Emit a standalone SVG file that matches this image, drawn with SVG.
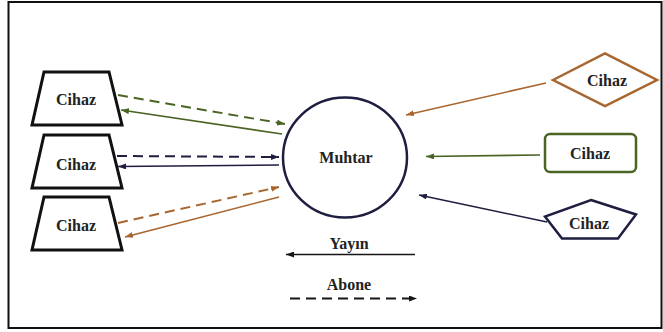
<svg xmlns="http://www.w3.org/2000/svg" width="663" height="332" viewBox="0 0 663 332">
<style>
text{font-family:"Liberation Serif","DejaVu Serif",serif;font-weight:bold;font-size:16px;fill:#222;text-anchor:middle}
.trap{fill:#fff;stroke:#111;stroke-width:3}
.c{fill:none}
.dash{stroke-width:2;stroke-dasharray:10 6}
.sol{stroke-width:1.6}
.br{stroke:#A8662E}
.gr{stroke:#4A6424}
.nv{stroke:#1E1E40}
.bk{stroke:#151515}
</style>
<defs>
<marker id="aBr" markerUnits="userSpaceOnUse" markerWidth="8" markerHeight="6" refX="8" refY="3" orient="auto"><path d="M0,0L8,3L0,6z" fill="#A8662E"/></marker>
<marker id="aGr" markerUnits="userSpaceOnUse" markerWidth="8" markerHeight="6" refX="8" refY="3" orient="auto"><path d="M0,0L8,3L0,6z" fill="#4A6424"/></marker>
<marker id="aNv" markerUnits="userSpaceOnUse" markerWidth="8" markerHeight="6" refX="8" refY="3" orient="auto"><path d="M0,0L8,3L0,6z" fill="#1E1E40"/></marker>
<marker id="aBk" markerUnits="userSpaceOnUse" markerWidth="8" markerHeight="6" refX="8" refY="3" orient="auto"><path d="M0,0L8,3L0,6z" fill="#151515"/></marker>
</defs>
<rect x="0" y="0" width="663" height="332" fill="#fff"/>
<rect x="8.5" y="2" width="653" height="326" fill="none" stroke="#111" stroke-width="2"/>

<g id="connectors">
  <line class="c dash gr" x1="118" y1="95" x2="285" y2="124" marker-end="url(#aGr)"/>
  <line class="c sol gr" x1="282" y1="134" x2="121" y2="110" marker-end="url(#aGr)"/>
  <line class="c dash nv" x1="117" y1="156" x2="279" y2="157" marker-end="url(#aNv)"/>
  <line class="c sol nv" x1="279" y1="165" x2="118" y2="166.5" marker-end="url(#aNv)"/>
  <line class="c dash br" x1="118" y1="223" x2="279" y2="187" marker-end="url(#aBr)"/>
  <line class="c sol br" x1="279" y1="197" x2="125" y2="237" marker-end="url(#aBr)"/>
  <line class="c sol br" x1="546" y1="83" x2="406" y2="115" marker-end="url(#aBr)"/>
  <line class="c sol gr" x1="540" y1="155" x2="426" y2="156.5" marker-end="url(#aGr)"/>
  <line class="c sol nv" x1="547" y1="222" x2="419" y2="195" marker-end="url(#aNv)"/>
  <line class="c sol bk" x1="415" y1="254.5" x2="286" y2="254.5" marker-end="url(#aBk)"/>
  <line class="c dash bk" x1="290" y1="298.5" x2="417" y2="298.5" marker-end="url(#aBk)"/>
</g>

<g id="cihaz1"><polygon class="trap" points="44,72 109,72 122,125 32,125"/><text x="76" y="104.5">Cihaz</text></g>
<g id="cihaz2"><polygon class="trap" points="44,135 109,135 122,188 32,188"/><text x="76" y="169.5">Cihaz</text></g>
<g id="cihaz3"><polygon class="trap" points="44,197 109,197 122,250 32,250"/><text x="76" y="231">Cihaz</text></g>

<g id="muhtar"><ellipse cx="345" cy="157.5" rx="62" ry="60" fill="#fff" stroke="#1E1E40" stroke-width="2.5"/><text x="346" y="163">Muhtar</text></g>

<g id="cihaz-diamond"><polygon points="553,80 605,53.5 657,80 605,106" fill="#fff" stroke="#A8662E" stroke-width="2.5"/><text x="607" y="85.5">Cihaz</text></g>
<g id="cihaz-rect"><rect x="545" y="134" width="91" height="38" rx="5" fill="#fff" stroke="#4A6424" stroke-width="2.5"/><text x="590" y="158.5">Cihaz</text></g>
<g id="cihaz-pentagon"><polygon points="591,200 636,214.5 618,238.5 562,238.5 545,216.5" fill="#fff" stroke="#1E1E40" stroke-width="2.5"/><text x="589" y="228.5">Cihaz</text></g>

<g id="legend">
  <text x="349" y="249">Yayın</text>
  <text x="349" y="290">Abone</text>
</g>
</svg>
